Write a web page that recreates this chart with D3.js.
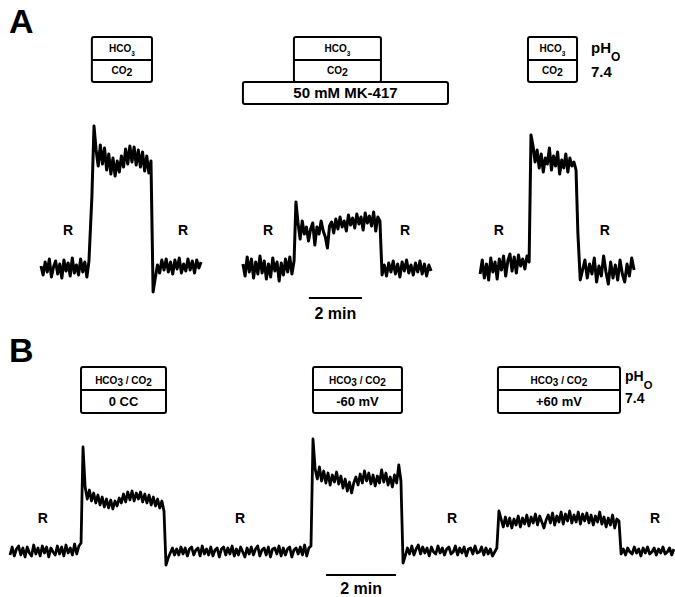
<!DOCTYPE html>
<html><head><meta charset="utf-8">
<script src="https://cdn.jsdelivr.net/npm/d3@7"></script>
<style>body{margin:0;background:#fff}svg{display:block}text{font-family:"Liberation Sans",Arial,sans-serif;font-weight:bold;fill:#000}</style>
</head><body><svg id="c" width="675" height="597"></svg>
<script>
// ---------- DATA (signal in arbitrary units, time in minutes) ----------
// Panel A, trace 1 (control): switch times [start,end] of each segment
const a1Times = [[0,1.81],[1.92,4.15],[4.23,6.04]];
const a1Base1 = [2,-7,6,-4,9,-9,1,7,-6,4,-10,8,-3,5,-8,10,-5,3,-7,9,-4,6,-9,7];
const a1Plat  = [71,142,118,102,123,104,120,98,114,94,110,92,107,96,112,101,119,104,122,106,121,103,118,101,116,97,112,95,107];
const a1Base2 = [-24,-10,3,-5,8,-2,9,-4,6,-6,8,-1,10,-5,4,-3,9,-2,7,-5,8,0,6];
// Panel A, trace 2 (50 mM MK-417)
const a2Times = [[7.62,9.55],[9.62,12.79],[12.87,14.72]];
const a2Base1 = [4,-8,11,-4,9,-10,6,-6,12,-5,7,-11,4,-9,10,-3,6,-13,5,-7,9,-4,11,-6,7];
const a2Plat  = [66,45,29,47,34,41,27,39,45,23,41,34,47,37,31,20,42,46,35,49,39,51,41,47,37,53,43,50,40,54,44,51,38,55,45,52,42,56,37,51,47];
const a2Base2 = [-7,3,-8,5,-4,7,-6,4,-9,6,-3,8,-5,3,-7,5,-4,7,-6,4,-8,3,-3];
// Panel A, trace 3 (washout)
const a3Times = [[16.57,18.42],[18.49,20.19],[20.26,22.38]];
const a3Base1 = [-6,8,-10,4,-12,10,-4,6,-11,9,-2,12,-8,7,14,-3,11,-5,13,2,9,-1,12,6];
const a3Plat  = [133,122,106,118,100,114,96,110,104,120,98,112,102,116,94,108,100,114,96,110,102,106,98];
const a3Base2 = [35,-12,-2,8,-10,4,-6,10,-14,2,-8,12,-4,-16,6,-10,3,-12,8,-6,-14,4,-8,10,-2];
// Panel B, continuous trace (0 CC, -60 mV, +60 mV)
const bTimes = [[0,2.03],[2.086,4.4],[4.457,8.6],[8.657,11.17],[11.23,13.91],[13.97,17.4],[17.46,18.97]];
const bBase0 = [-4,4,-5,2,5,-4,3,-6,4,-2,-5,6,-3,3,-5,5,-2,4,-6,3,-1,-4,5,-3,4,-5,6,-2,3,-4,7,-3,5,8];
const bPlat1 = [104,64,52,61,50,58,48,56,46,54,44,52,43,51,42,50,45,53,48,57,49,59,51,60,50,58,52,59,49,57,48,56,46,54,45,52,43,50,40];
const bBase1 = [-14,-7,-2,3,-4,2,-4,4,-3,3,-5,2,4,-4,1,3,-5,5,-3,2,-4,4,-5,1,3,-6,2,4,-4,3,-3,5,-5,2,-4,4,-1,-6,3,-3,4,-4,2,5,-5,1,3,-4,4,-6,2,3,-3,5,-5,3,-4,2,4,-6,1,3,-3,4,-4,6,-5,3,5];
const bPlat2 = [112,82,72,84,70,80,68,78,66,76,69,79,67,75,63,72,60,69,58,68,74,66,77,68,80,70,78,67,76,65,75,68,81,69,78,66,74,64,76,68,86,70];
const bBase2 = [-12,-5,3,-3,5,-4,2,6,-3,4,-2,3,-5,4,-1,-3,5,-2,3,-4,2,4,-3,-1,5,-4,3,-2,4,-5,2,3,-3,5,-2,-1,4,-4,3,-3,2,-5,-1,3];
const bPlat3 = [40,32,24,34,25,33,23,32,26,35,24,33,27,36,25,34,28,37,26,35,29,23,31,36,28,38,26,35,29,39,27,37,30,40,28,36,29,39,27,37,30,38,28,36,26,35,29,39,27,34,24,33,26,36,23,32,30];
const bBase3 = [-3,2,-4,3,-1,-3,4,-2,2,-5,3,-2,4,-3,-1,3,-4,2,-2,4,-3,-1,3,-4,2];
// Labels
const rTimesA = [1.02,5.36,8.57,13.74,17.28,21.28];
const rTimesB = [0.94,6.57,12.63,18.43];
const scaleBarMin = 2;

// ---------- DRAW ----------
const svg = d3.select("#c");
const xA = d3.scaleLinear().domain([0,24]).range([41,41+24*26.5]);
const yA = d3.scaleLinear().domain([0,100]).range([268,168]);
const xB = d3.scaleLinear().domain([0,19]).range([10,10+19*35]);
const yB = d3.scaleLinear().domain([0,100]).range([551,451]);

function build(times, segs){
  const pts=[];
  segs.forEach((vals,k)=>{
    const [t0,t1]=times[k], n=vals.length;
    vals.forEach((v,i)=>pts.push([t0+i*(t1-t0)/(n-1), v]));
  });
  return pts;
}
function trace(pts,x,y,sw){
  const line=d3.line().x(d=>x(d[0])).y(d=>y(d[1]));
  svg.append("path").attr("d",line(pts)).attr("fill","none").attr("stroke","#000")
    .attr("stroke-width",sw).attr("stroke-linejoin","round");
}
trace(build(a1Times,[a1Base1,a1Plat,a1Base2]),xA,yA,3);
trace(build(a2Times,[a2Base1,a2Plat,a2Base2]),xA,yA,3);
trace(build(a3Times,[a3Base1,a3Plat,a3Base2]),xA,yA,3);
trace(build(bTimes,[bBase0,bPlat1,bBase1,bPlat2,bBase2,bPlat3,bBase3]),xB,yB,2.8);

// panel letters
svg.append("text").attr("x",9).attr("y",33).attr("font-size",34).text("A");
svg.append("text").attr("x",9).attr("y",362).attr("font-size",34).text("B");

// R labels
rTimesA.forEach(t=>svg.append("text").attr("x",xA(t)).attr("y",235).attr("text-anchor","middle").attr("font-size",14).text("R"));
rTimesB.forEach(t=>svg.append("text").attr("x",xB(t)).attr("y",523).attr("text-anchor","middle").attr("font-size",14).text("R"));

// scale bars
function bar(x,y,t0,yy,ty){
  svg.append("line").attr("x1",x(t0)).attr("x2",x(t0+scaleBarMin)).attr("y1",yy).attr("y2",yy)
    .attr("stroke","#000").attr("stroke-width",2);
  svg.append("text").attr("x",(x(t0)+x(t0+scaleBarMin))/2).attr("y",ty).attr("text-anchor","middle")
    .attr("font-size",16).text(scaleBarMin+" min");
}
bar(xA,yA,10.11,298,319);
bar(xB,yB,9.03,575,594);

function rect(x0,x1,y0,y1){
  svg.append("rect").attr("x",x0).attr("y",y0).attr("width",x1-x0).attr("height",y1-y0)
    .attr("rx",2).attr("fill","none").attr("stroke","#000").attr("stroke-width",2);
}
function hline(x0,x1,y){svg.append("line").attr("x1",x0).attr("x2",x1).attr("y1",y).attr("y2",y).attr("stroke","#000").attr("stroke-width",2);}

// Panel A solution boxes
function boxA(x0,x1){
  rect(x0,x1,37,82); hline(x0,x1,60);
  const cx=(x0+x1)/2;
  const t1=svg.append("text").attr("x",cx).attr("y",52).attr("text-anchor","middle").attr("font-size",10);
  t1.append("tspan").text("HCO");
  t1.append("tspan").attr("font-size",6.5).attr("dy",4).text("3");
  const t2=svg.append("text").attr("x",cx).attr("y",74).attr("text-anchor","middle").attr("font-size",10);
  t2.append("tspan").text("CO");
  t2.append("tspan").attr("dy",2).attr("font-size",10.5).text("2");
}
boxA(xA(a1Times[1][0]),xA(a1Times[1][1])+1);
boxA(xA(a2Times[1][0])-2,xA(a2Times[1][1])+1);
boxA(xA(a3Times[1][0])-3,xA(a3Times[1][1])+1);
// MK-417 box
rect(xA(a2Times[0][0]),448,82,104);
svg.append("text").attr("x",(xA(a2Times[0][0])+448)/2).attr("y",98).attr("text-anchor","middle")
  .attr("font-size",15).text("50 mM MK-417");

// pHo labels
function pho(x,y1,y2,fs){
  const t=svg.append("text").attr("x",x).attr("y",y1).attr("font-size",fs);
  t.append("tspan").text("pH");
  t.append("tspan").attr("dy",fs*0.55).attr("font-size",fs*0.8).text("O");
  svg.append("text").attr("x",x).attr("y",y2).attr("font-size",fs).text("7.4");
}
pho(591,53,77,15);
pho(625,381,403,14);

// Panel B boxes
function boxB(x0,x1,label){
  rect(x0,x1,367,413); hline(x0,x1,390);
  const cx=(x0+x1)/2;
  const t=svg.append("text").attr("x",cx).attr("y",384).attr("text-anchor","middle").attr("font-size",10);
  t.append("tspan").text("HCO");
  t.append("tspan").attr("dy",2).text("3");
  t.append("tspan").attr("dy",-2).text(" / CO");
  t.append("tspan").attr("dy",2).text("2");
  svg.append("text").attr("x",cx).attr("y",406).attr("text-anchor","middle").attr("font-size",13).text(label);
}
const bLabels=["0 CC","-60 mV","+60 mV"];
boxB(xB(bTimes[1][0])-2,xB(bTimes[1][1])+2,bLabels[0]);
boxB(xB(bTimes[3][0]),xB(bTimes[3][1])+1,bLabels[1]);
boxB(xB(bTimes[5][0])-1,xB(bTimes[5][1])+1,bLabels[2]);
</script></body></html>
